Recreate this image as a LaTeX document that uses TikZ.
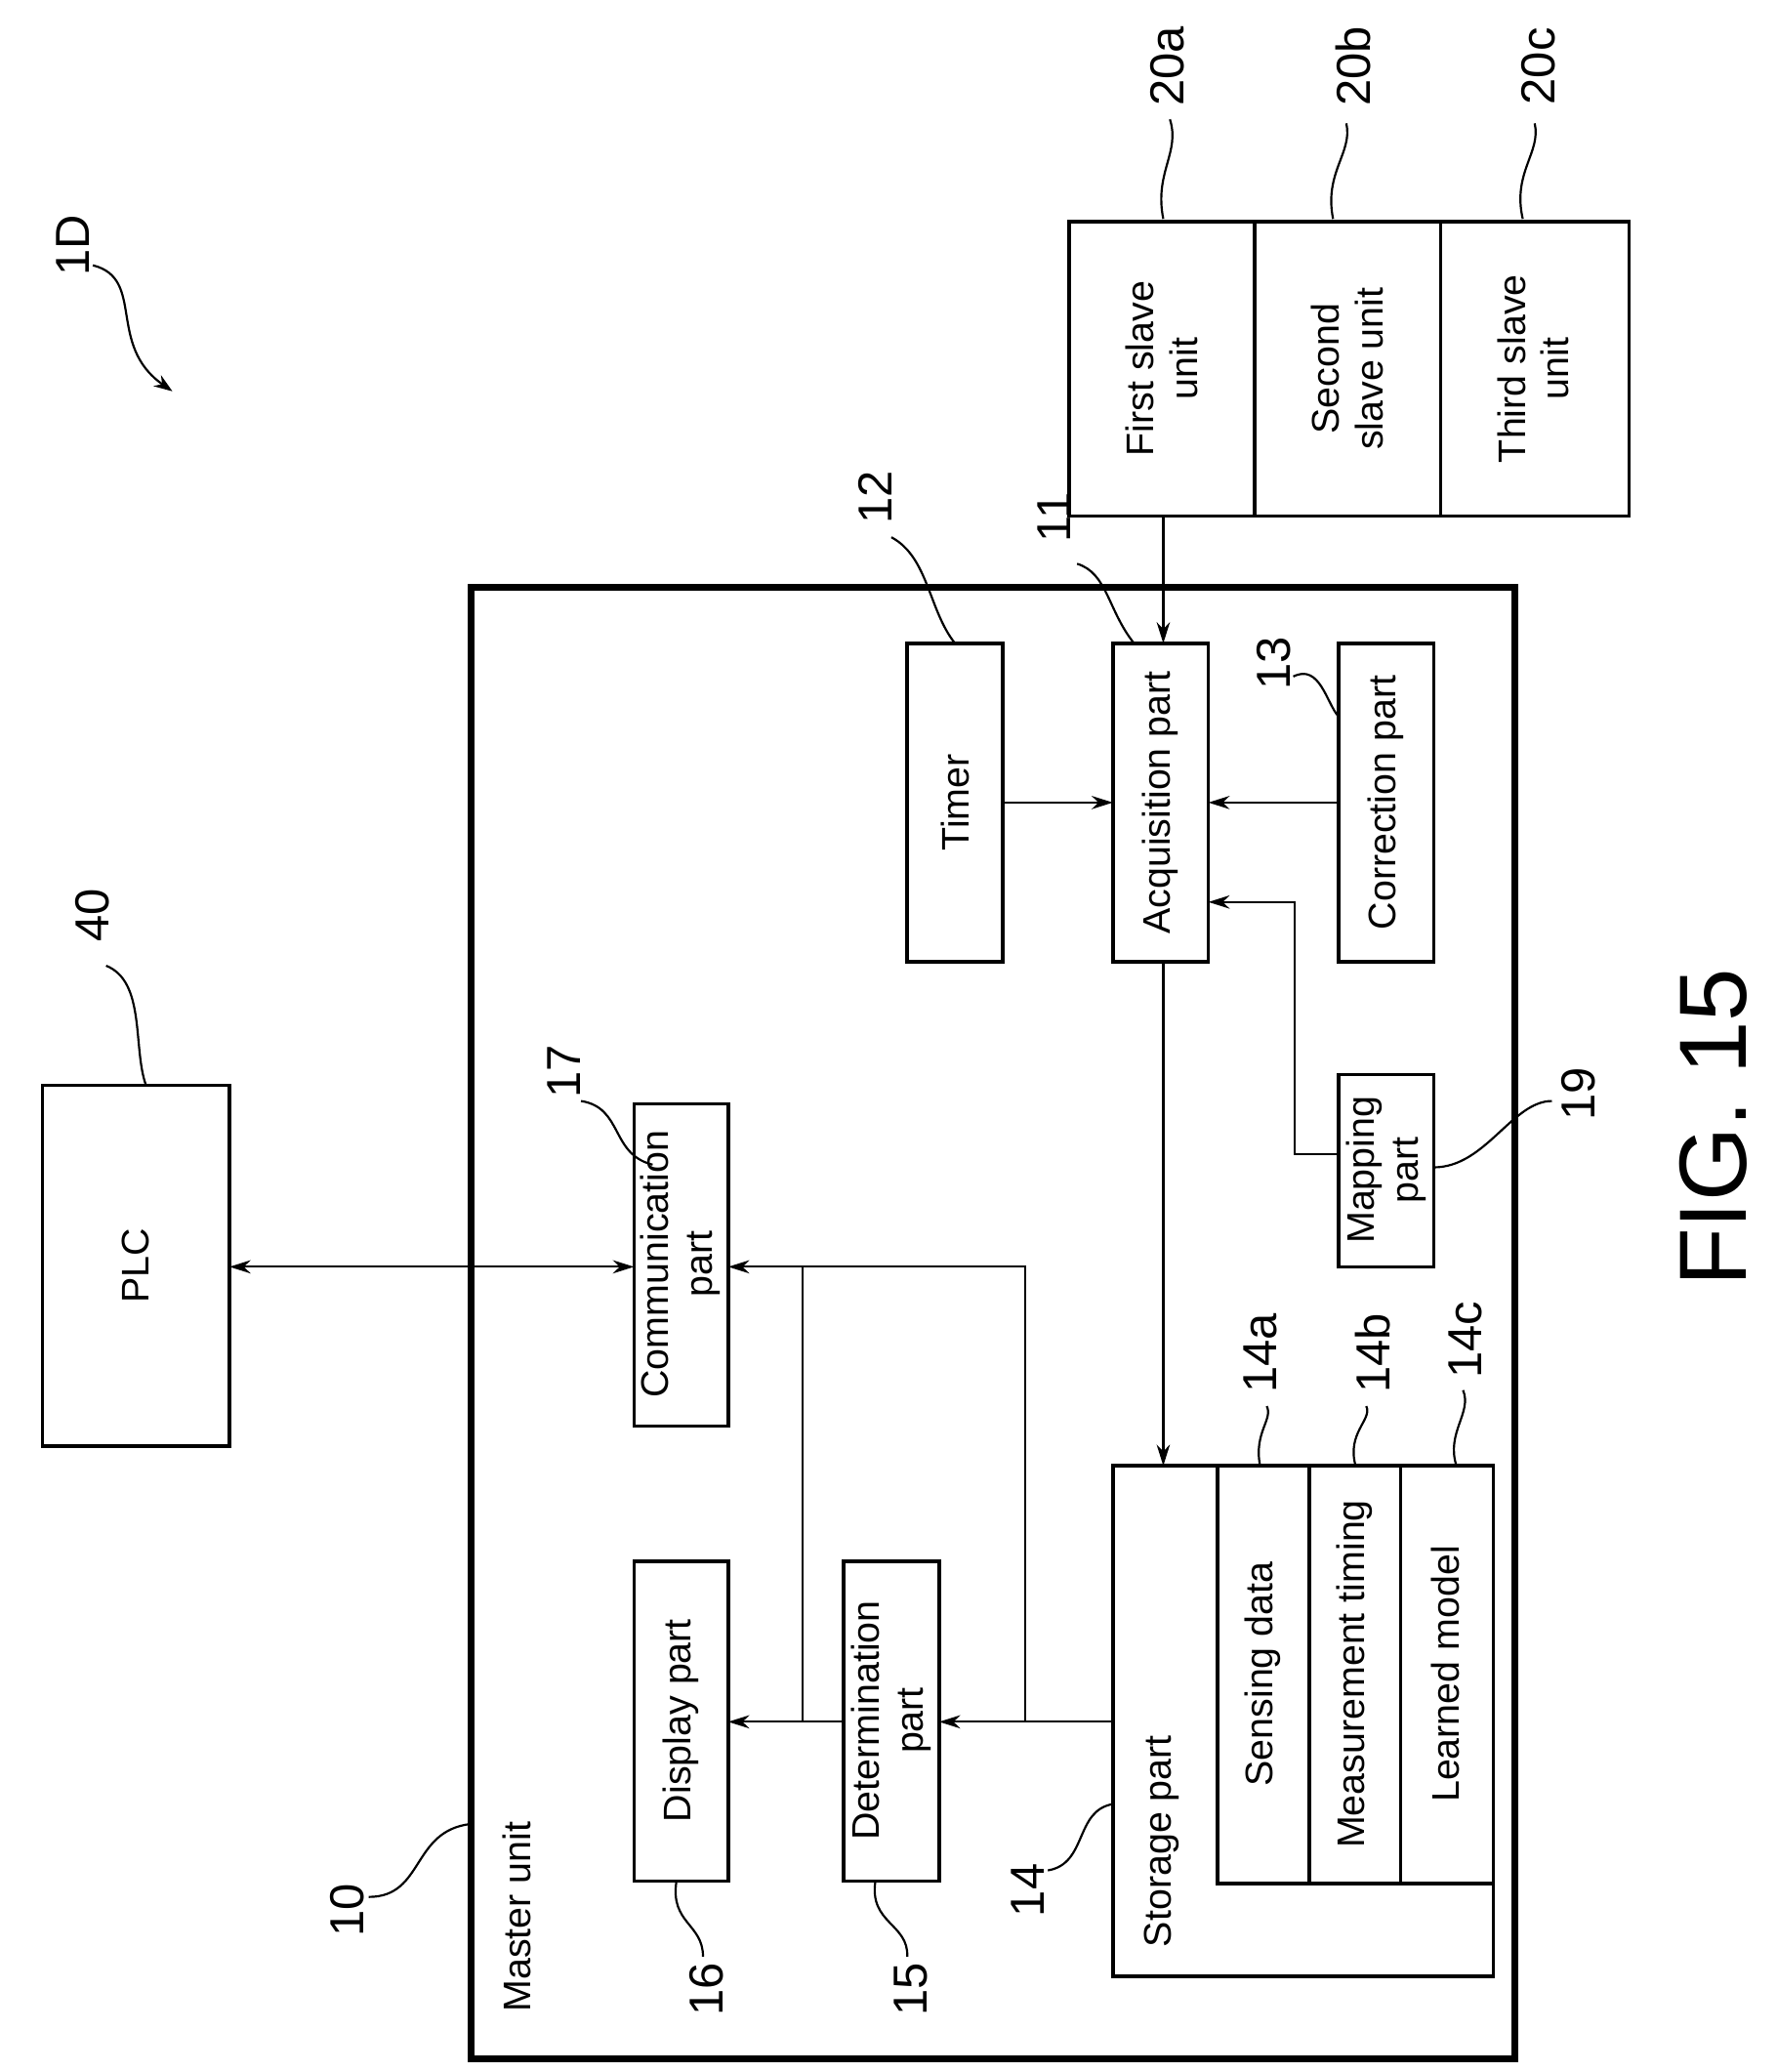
\documentclass[tikz,border=0pt]{standalone}
\usepackage{fontspec}
\setmainfont{Liberation Sans}
\usetikzlibrary{arrows.meta}
\begin{document}
\begin{tikzpicture}[x=0.5pt,y=-0.5pt,
 bx/.style={draw,line width=1.3pt},
 txt/.style={rotate=90,align=center,font=\fontsize{14.5}{16.5}\selectfont,inner sep=0},
 num/.style={rotate=90,font=\fontsize{18}{20}\selectfont,inner sep=0},
 ar/.style={-{Stealth[length=8pt,width=5pt]},line width=0.8pt},
 ld/.style={line width=0.8pt}]
\useasboundingbox (0,0) rectangle (1339,1562);
% master
\draw[line width=2.5pt] (355,443) rectangle (1142,1552);
\node[txt] (mu) at (390,1445) {Master unit};
% slaves
\draw[bx] (806,167) rectangle (1228,389);
\draw[bx] (946,167)--(946,389) (1086,167)--(1086,389);
\node[txt] (s1) at (876,278) {First slave\\unit};
\node[txt] (s2) at (1016,278) {Second\\slave unit};
\node[txt] (s3) at (1156,278) {Third slave\\unit};
% boxes
\draw[bx] (684,485) rectangle (756,725); \node[txt] (tim) at (720,605) {Timer};
\draw[bx] (839,485) rectangle (911,725); \node[txt] (acq) at (875,605) {Acquisition part};
\draw[bx] (1009,485) rectangle (1081,725); \node[txt] (cor) at (1045,605) {Correction part};
\draw[bx] (1009,810) rectangle (1081,955); \node[txt] (map) at (1045,882) {Mapping\\part};
\draw[bx] (478,832) rectangle (549,1075); \node[txt] (com) at (513,953) {Communication\\part};
\draw[bx] (478,1177) rectangle (549,1418); \node[txt] (dis) at (513,1297) {Display part};
\draw[bx] (636,1177) rectangle (708,1418); \node[txt] (det) at (672,1297) {Determination\\part};
\draw[bx] (839,1105) rectangle (1126,1490); \node[txt] (sto) at (876,1388) {Storage part};
\draw[bx] (918,1105) rectangle (1126,1420);
\draw[bx] (987,1105)--(987,1420) (1056,1105)--(1056,1420);
\node[txt] (sd) at (952,1262) {Sensing data};
\node[txt] (mt) at (1021,1262) {Measurement timing};
\node[txt] (lm) at (1090,1262) {Learned model};
\draw[bx] (32,818) rectangle (173,1090); \node[txt] (plc) at (102,954) {PLC};
% arrows
\draw[ar] (877,389)--(877,485);
\draw[ar] (756,605)--(839,605);
\draw[ar] (1009,605)--(911,605);
\draw[ar] (1009,870)--(976,870)--(976,680)--(911,680);
\draw[ar] (877,725)--(877,1105);
\draw[ar] (839,1298)--(708,1298);
\draw[ar] (636,1298)--(549,1298);
\draw[ar] (773,1298)--(773,955)--(549,955);
\draw[ld] (605,1298)--(605,955);
\draw[{Stealth[length=8pt,width=5pt]}-{Stealth[length=8pt,width=5pt]},line width=0.8pt] (173,955)--(478,955);
% labels
\node[num] (l20a) at (880,50) {20a};
\node[num] (l20b) at (1020,50) {20b};
\node[num] (l20c) at (1160,50) {20c};
\draw[ld] (877,165) .. controls (870,130) and (890,115) .. (882,90);
\draw[ld] (1005,165) .. controls (998,130) and (1020,115) .. (1015,93);
\draw[ld] (1148,165) .. controls (1140,130) and (1162,115) .. (1157,93);
\node[num] (l1d) at (55,185) {1D};
\draw[ld,-{Stealth[length=7pt,width=5pt]}] (70,200) .. controls (110,210) and (80,260) .. (130,295);
\node[num] (l12) at (660,375) {12};
\draw[ld] (672,405) .. controls (700,420) and (700,460) .. (720,485);
\node[num] (l11) at (795,390) {11};
\draw[ld] (812,425) .. controls (835,432) and (835,460) .. (855,485);
\node[num] (l13) at (960,500) {13};
\draw[ld] (975,510) .. controls (995,500) and (1000,530) .. (1009,540);
\node[num] (l19) at (1190,825) {19};
\draw[ld] (1081,880) .. controls (1120,880) and (1140,830) .. (1170,830);
\node[num] (l17) at (425,808) {17};
\draw[ld] (438,830) .. controls (470,835) and (460,870) .. (492,878);
\node[num] (l40) at (70,690) {40};
\draw[ld] (80,728) .. controls (110,740) and (100,790) .. (110,818);
\node[num] (l14a) at (950,1020) {14a};
\draw[ld] (950,1105) .. controls (945,1080) and (960,1070) .. (955,1060);
\node[num] (l14b) at (1035,1020) {14b};
\draw[ld] (1022,1105) .. controls (1015,1080) and (1035,1070) .. (1030,1060);
\node[num] (l14c) at (1105,1010) {14c};
\draw[ld] (1098,1105) .. controls (1090,1080) and (1110,1065) .. (1103,1048);
\node[num] (l10) at (262,1440) {10};
\draw[ld] (278,1430) .. controls (320,1430) and (310,1380) .. (355,1375);
\node[num] (l16) at (533,1500) {16};
\draw[ld] (510,1418) .. controls (505,1450) and (530,1450) .. (530,1475);
\node[num] (l15) at (687,1500) {15};
\draw[ld] (660,1418) .. controls (655,1450) and (685,1450) .. (684,1475);
\node[num] (l14) at (775,1425) {14};
\draw[ld] (790,1410) .. controls (820,1405) and (810,1365) .. (839,1360);
\node[rotate=90,font=\fontsize{36}{38}\selectfont,inner sep=0] (fig) at (1292,850) {FIG. 15};
\end{tikzpicture}
\end{document}
